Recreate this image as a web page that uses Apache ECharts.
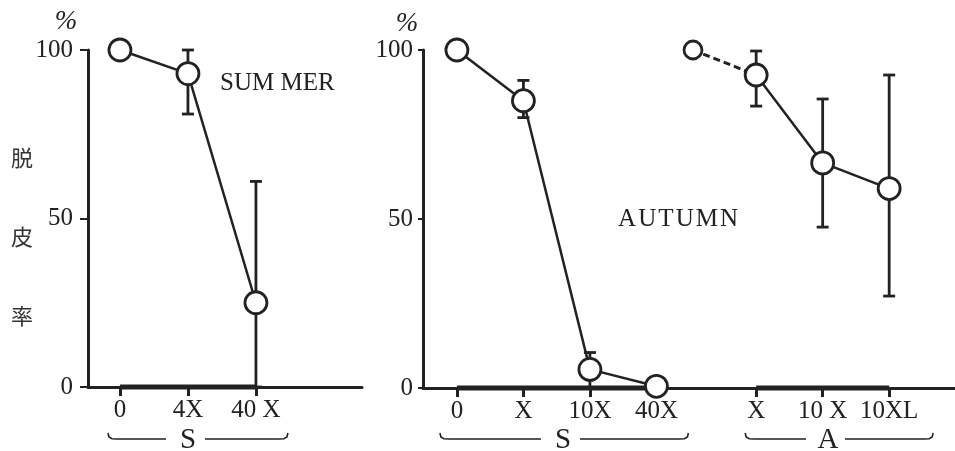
<!DOCTYPE html>
<html><head><meta charset="utf-8">
<script src="https://cdn.jsdelivr.net/npm/echarts@6/dist/echarts.min.js"></script>
<style>html,body{margin:0;padding:0;background:#fff}#c{width:955px;height:451px}</style>
</head><body><div id="c"></div>
<script>
// ---- data (脱皮率 %) ----
const summerLabels = ['0', '4X', '40 X'];
const summerMean   = [100, 93, 25];
const summerHigh   = [null, 100, 61];
const summerLow    = [null, 81, 0];

const autumnSLabels = ['0', 'X', '10X', '40X'];
const autumnSMean   = [100, 85, 5.5, 0.5];
const autumnSHigh   = [null, 91, 10.5, null];
const autumnSLow    = [null, 80, 0, null];

const autumnALabels  = ['X', '10 X', '10XL'];
const autumnAMean    = [92.6, 66.6, 59];
const autumnAHigh    = [99.7, 85.5, 92.6];
const autumnALow     = [83.4, 47.6, 27.2];
const autumnAControl = 100;

// ---- helpers ----
const INK = '#222';
const SERIF = '"Liberation Serif","DejaVu Serif",serif';
const summerX  = summerLabels.map((_, i) => i);
const autumnSX = autumnSLabels.map((_, i) => i);
const aStart   = autumnSLabels.length + 0.5;
const autumnAX = autumnALabels.map((_, i) => aStart + i);
const controlX = aStart - 0.95;

const key = v => Number(v).toFixed(2);
const lblMap0 = {}; summerX.forEach((x, i) => lblMap0[key(x)] = summerLabels[i]);
const lblMap1 = {};
autumnSX.forEach((x, i) => lblMap1[key(x)] = autumnSLabels[i]);
autumnAX.forEach((x, i) => lblMap1[key(x)] = autumnALabels[i]);

function errData(xs, lo, hi) {
  const out = [];
  xs.forEach((x, i) => { if (lo[i] != null && hi[i] != null) out.push([x, lo[i], hi[i]]); });
  return out;
}
function errSeries(gi, data) {
  return {
    type: 'custom', xAxisIndex: gi, yAxisIndex: gi, z: 1, clip: false,
    data: data, encode: { x: 0, y: [1, 2] },
    renderItem: function (params, api) {
      const x = api.value(0);
      const lo = api.coord([x, api.value(1)]);
      const hi = api.coord([x, api.value(2)]);
      const w = 6;
      const st = { stroke: INK, lineWidth: 2.8 };
      return { type: 'group', children: [
        { type: 'line', shape: { x1: lo[0], y1: lo[1], x2: hi[0], y2: hi[1] }, style: st },
        { type: 'line', shape: { x1: hi[0] - w, y1: hi[1], x2: hi[0] + w, y2: hi[1] }, style: st },
        { type: 'line', shape: { x1: lo[0] - w, y1: lo[1], x2: lo[0] + w, y2: lo[1] }, style: st }
      ]};
    }
  };
}
function pointSeries(gi, xs, ys, size) {
  return {
    type: 'line', xAxisIndex: gi, yAxisIndex: gi, z: 5, clip: false,
    data: xs.map((x, i) => [x, ys[i]]),
    symbol: 'circle', symbolSize: size || 22,
    itemStyle: { color: '#fff', borderColor: INK, borderWidth: 2.8 },
    lineStyle: { color: INK, width: 2.5 }
  };
}
function barSeries(gi, x0, x1) {
  return {
    type: 'line', xAxisIndex: gi, yAxisIndex: gi, z: 2, clip: false,
    data: [[x0, 0], [x1, 0]], symbol: 'none', silent: true,
    lineStyle: { color: INK, width: 5 }
  };
}
function yAxis(gi, margin, tickLen) {
  return {
    gridIndex: gi, type: 'value', min: 0, max: 100, interval: 50,
    splitLine: { show: false },
    axisLine: { show: true, onZero: false, lineStyle: { color: INK, width: 3 } },
    axisTick: { show: true, length: tickLen, lineStyle: { color: INK, width: 2 } },
    axisLabel: { margin: margin, fontFamily: SERIF, fontSize: 25, color: INK }
  };
}
function xAxis(gi, min, max, ticks, map) {
  return {
    gridIndex: gi, type: 'value', min: min, max: max,
    splitLine: { show: false },
    axisLine: { show: true, onZero: false, lineStyle: { color: INK, width: 3 } },
    axisTick: { show: true, customValues: ticks, length: 9, lineStyle: { color: INK, width: 3 } },
    axisLabel: { customValues: ticks, margin: 11, fontFamily: SERIF, fontSize: 25, color: INK,
                 formatter: v => map[key(v)] || '' }
  };
}

const chart = echarts.init(document.getElementById('c'), null, { renderer: 'canvas' });
chart.setOption({
  animation: false,
  backgroundColor: '#fff',
  grid: [
    { left: 88, top: 50, width: 274, height: 337 },
    { left: 423, top: 50, width: 532, height: 338 }
  ],
  xAxis: [
    xAxis(0, -0.47, 3.56, summerX, lblMap0),
    xAxis(1, -0.51, 7.49, autumnSX.concat(autumnAX), lblMap1)
  ],
  yAxis: [ yAxis(0, 15, 8), yAxis(1, 10, 5) ],
  series: [
    barSeries(0, summerX[0], summerX[summerX.length - 1]),
    errSeries(0, errData(summerX, summerLow, summerHigh)),
    pointSeries(0, summerX, summerMean),
    barSeries(1, autumnSX[0], autumnSX[autumnSX.length - 1]),
    barSeries(1, autumnAX[0], autumnAX[autumnAX.length - 1]),
    errSeries(1, errData(autumnSX, autumnSLow, autumnSHigh)),
    errSeries(1, errData(autumnAX, autumnALow, autumnAHigh)),
    pointSeries(1, autumnSX, autumnSMean),
    {
      type: 'line', xAxisIndex: 1, yAxisIndex: 1, z: 4, clip: false,
      data: [{ value: [controlX, autumnAControl] }, { value: [autumnAX[0], autumnAMean[0]], symbol: 'none' }],
      symbol: 'circle', symbolSize: 18,
      itemStyle: { color: '#fff', borderColor: INK, borderWidth: 2.8 },
      lineStyle: { color: INK, width: 3, type: [7, 4] }
    },
    pointSeries(1, autumnAX, autumnAMean)
  ]
});

// ---- annotations ----
function px(gi, x) { return chart.convertToPixel({ xAxisIndex: gi, yAxisIndex: gi }, [x, 0]); }
const braceY = 439;
function brace(x1, x2, cx, letter) {
  const st = { stroke: INK, lineWidth: 1.6, fill: null };
  const y = braceY;
  return [
    { type: 'polyline', shape: { points: [[x1, y - 6], [x1 + 1, y - 2], [x1 + 4, y - 0.3], [x1 + 9, y], [cx - 22, y]] }, style: st },
    { type: 'polyline', shape: { points: [[cx + 17, y], [x2 - 9, y], [x2 - 4, y - 0.3], [x2 - 1, y - 2], [x2, y - 6]] }, style: st },
    { type: 'text', x: cx, y: y + 1, style: { text: letter, fontFamily: SERIF, fontSize: 29, fill: INK, align: 'center', verticalAlign: 'middle' } }
  ];
}
const l0 = px(0, summerX[0])[0], l2 = px(0, summerX[2])[0];
const s0 = px(1, autumnSX[0])[0], s3 = px(1, autumnSX[3])[0];
const a0 = px(1, autumnAX[0])[0], a2 = px(1, autumnAX[2])[0];

const txt = (x, y, t, size, extra) => ({ type: 'text', x: x, y: y,
  style: Object.assign({ text: t, fontFamily: SERIF, fontSize: size, fill: INK, align: 'center', verticalAlign: 'middle' }, extra || {}) });
const cjk = { fontFamily: '"Noto Sans CJK JP","Noto Sans CJK SC",sans-serif', fill: '#333' };

chart.setOption({
  graphic: [].concat(
    brace(l0 - 12, l2 + 32, 188, 'S'),
    brace(s0 - 17, s3 + 32, 563, 'S'),
    brace(a0 - 11, a2 + 44, 828, 'A'),
    [
      txt(66, 22, '%', 27, { fontStyle: 'italic' }),
      txt(407, 24, '%', 27, { fontStyle: 'italic' }),
      txt(22, 158, '脱', 22, cjk),
      txt(22, 237, '皮', 22, cjk),
      txt(22, 316, '率', 22, cjk),
      txt(220, 83, 'SUM MER', 25, { align: 'left' }),
      txt(618, 219, 'A\u200AU\u200AT\u200AU\u200AM\u200AN', 25, { align: 'left' })
    ]
  )
});
</script>
</body></html>
